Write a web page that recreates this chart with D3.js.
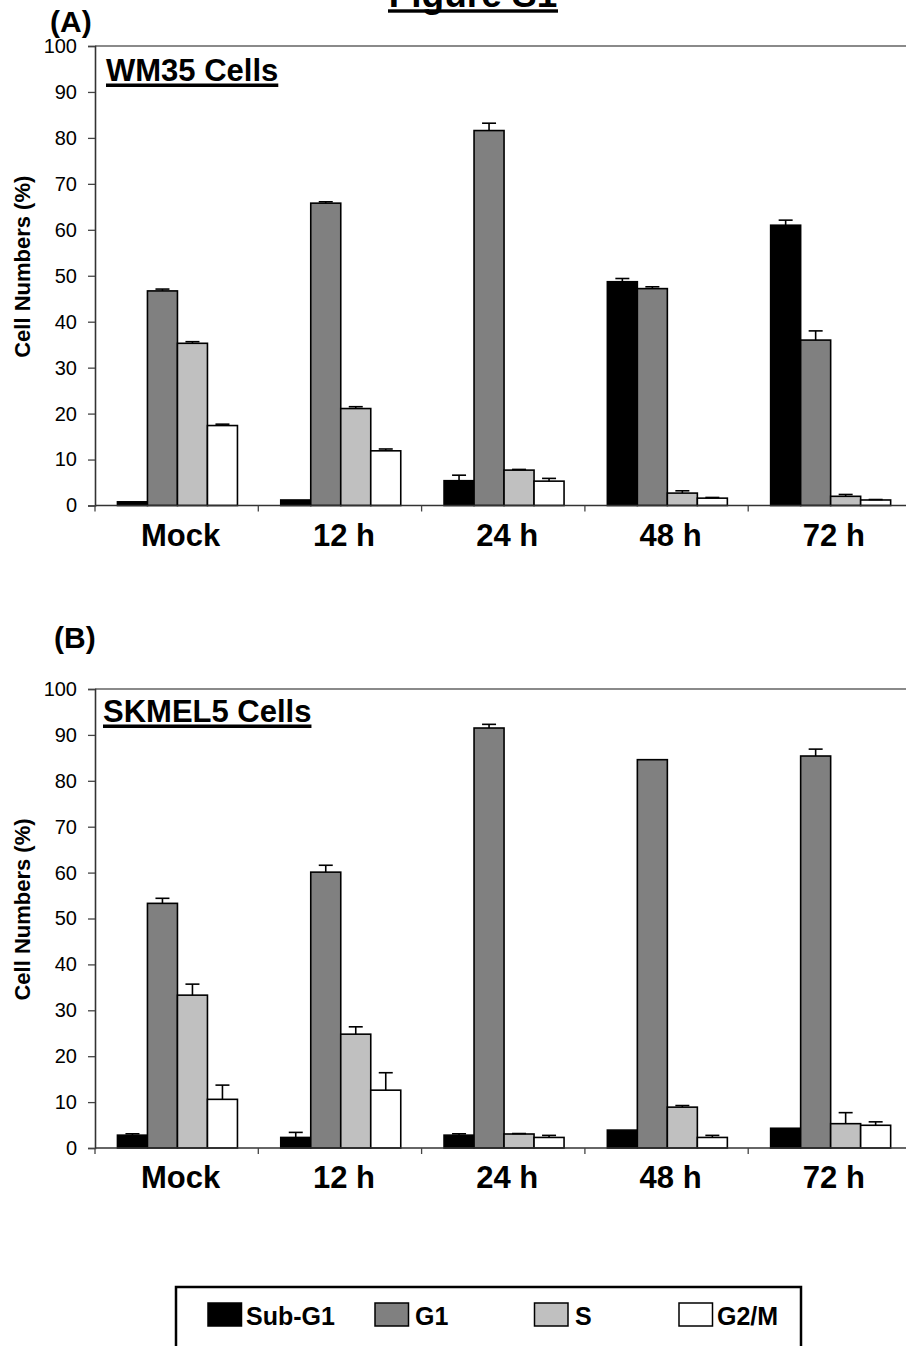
<!DOCTYPE html>
<html>
<head>
<meta charset="utf-8">
<script src="https://cdn.jsdelivr.net/npm/d3@7/dist/d3.min.js"></script>
<style>
  html, body { margin: 0; padding: 0; background: #fff; }
  svg { display: block; }
  text { font-family: "Liberation Sans", Arial, Helvetica, sans-serif; fill: #000; }
</style>
</head>
<body>
<svg id="fig" width="906" height="1346"></svg>
<script>
// Time points and cell-cycle phases
const categories = ["Mock", "12 h", "24 h", "48 h", "72 h"];
const phases = ["Sub-G1", "G1", "S", "G2/M"];
const phaseColors = ["#000000", "#808080", "#c0c0c0", "#ffffff"];
const yTicks = [0, 10, 20, 30, 40, 50, 60, 70, 80, 90, 100];

// WM35 cells: mean percentage per phase, and upper error
const wm35SubG1 = [0.8, 1.2, 5.4, 48.7, 61.0];
const wm35G1    = [46.7, 65.8, 81.6, 47.2, 36.0];
const wm35S     = [35.3, 21.1, 7.7, 2.7, 2.0];
const wm35G2M   = [17.4, 11.9, 5.3, 1.6, 1.2];
const wm35SubG1Err = [0, 0, 1.2, 0.7, 1.1];
const wm35G1Err    = [0.4, 0.3, 1.6, 0.4, 2.0];
const wm35SErr     = [0.35, 0.4, 0.15, 0.5, 0.4];
const wm35G2MErr   = [0.3, 0.4, 0.6, 0.15, 0.1];

// SKMEL5 cells
const skmelSubG1 = [2.8, 2.3, 2.8, 3.9, 4.3];
const skmelG1    = [53.3, 60.1, 91.5, 84.6, 85.4];
const skmelS     = [33.3, 24.8, 3.05, 8.9, 5.3];
const skmelG2M   = [10.6, 12.6, 2.3, 2.3, 4.95];
const skmelSubG1Err = [0.3, 1.1, 0.3, 0, 0];
const skmelG1Err    = [1.1, 1.5, 0.8, 0, 1.5];
const skmelSErr     = [2.4, 1.6, 0.1, 0.35, 2.4];
const skmelG2MErr   = [3.1, 3.8, 0.45, 0.45, 0.75];

const FONT = '"Liberation Sans", Arial, Helvetica, sans-serif';
const svg = d3.select("#fig");

// Figure title (partly above the page edge)
const title = svg.append("text")
  .attr("x", 473).attr("y", 7)
  .attr("text-anchor", "middle")
  .style("font-size", "37px").style("font-weight", "bold")
  .text("Figure S1");
svg.append("rect").attr("x", 388).attr("y", 9.3).attr("width", 170).attr("height", 3.4).attr("fill", "#000");

function buildTable(vals, errs) {
  return categories.map((c, i) => ({
    category: c,
    bars: phases.map((p, j) => ({ phase: p, value: vals[j][i], err: errs[j][i], color: phaseColors[j] }))
  }));
}

function drawPanel(opts) {
  const { table, top, bottom, label, labelX, labelY, cellName, cellX, cellY } = opts;
  const g = svg.append("g");

  const x = d3.scaleBand().domain(categories).range([95, 95 + 5 * 163.3]).paddingInner(0).paddingOuter(0);
  const groupW = 120;
  const xi = d3.scaleBand().domain(phases).range([0, groupW]).padding(0);
  const groupOffset = (x.bandwidth() - groupW) / 2 + 0.8;
  const y = d3.scaleLinear().domain([0, 100]).range([bottom, top]);

  // plot frame top edge
  g.append("line").attr("x1", 95).attr("x2", 906).attr("y1", y(100)).attr("y2", y(100))
    .attr("stroke", "#8a8a8a").attr("stroke-width", 2);

  // bars
  const groups = g.selectAll("g.grp").data(table).join("g")
    .attr("class", "grp")
    .attr("transform", d => `translate(${x(d.category) + groupOffset},0)`);

  groups.selectAll("rect").data(d => d.bars).join("rect")
    .attr("x", d => xi(d.phase))
    .attr("y", d => y(d.value))
    .attr("width", xi.bandwidth())
    .attr("height", d => y(0) - y(d.value))
    .attr("fill", d => d.color)
    .attr("stroke", "#000").attr("stroke-width", 1.6);

  // upper error bars
  const eb = groups.selectAll("g.err").data(d => d.bars.filter(b => b.err > 0)).join("g").attr("class", "err");
  eb.append("line")
    .attr("x1", d => xi(d.phase) + xi.bandwidth() / 2)
    .attr("x2", d => xi(d.phase) + xi.bandwidth() / 2)
    .attr("y1", d => y(d.value)).attr("y2", d => y(d.value + d.err))
    .attr("stroke", "#000").attr("stroke-width", 1.6);
  eb.append("line")
    .attr("x1", d => xi(d.phase) + xi.bandwidth() / 2 - 7)
    .attr("x2", d => xi(d.phase) + xi.bandwidth() / 2 + 7)
    .attr("y1", d => y(d.value + d.err)).attr("y2", d => y(d.value + d.err))
    .attr("stroke", "#000").attr("stroke-width", 1.6);

  // y axis
  const yAxis = g.append("g").attr("transform", "translate(95,0)")
    .call(d3.axisLeft(y).tickValues(yTicks).tickSize(7).tickPadding(11).tickFormat(d3.format("d")));
  yAxis.select(".domain").attr("stroke", "#333").attr("stroke-width", 1.6);
  yAxis.selectAll(".tick line").attr("stroke", "#444").attr("stroke-width", 1.3);
  yAxis.selectAll(".tick text").style("font-family", FONT).style("font-size", "20px").attr("fill", "#000");

  // x axis: baseline with boundary ticks between time points
  g.append("line").attr("x1", 95).attr("x2", 906).attr("y1", y(0)).attr("y2", y(0))
    .attr("stroke", "#333").attr("stroke-width", 1.6);
  const bounds = categories.map(c => x(c)).concat([x(categories[categories.length - 1]) + x.bandwidth()]);
  g.selectAll("line.xt").data(bounds).join("line").attr("class", "xt")
    .attr("x1", d => d).attr("x2", d => d)
    .attr("y1", y(0)).attr("y2", y(0) + 6)
    .attr("stroke", "#444").attr("stroke-width", 1.3);
  g.selectAll("text.xl").data(categories).join("text").attr("class", "xl")
    .attr("x", d => x(d) + x.bandwidth() / 2 + 4)
    .attr("y", y(0) + 40)
    .attr("text-anchor", "middle")
    .style("font-size", "31px").style("font-weight", "bold")
    .text(d => d);

  // y axis title
  g.append("text")
    .attr("transform", `translate(30,${(y(0) + y(100)) / 2 - 9}) rotate(-90)`)
    .attr("text-anchor", "middle")
    .style("font-size", "22px").style("font-weight", "bold")
    .text("Cell Numbers (%)");

  // panel letter
  g.append("text").attr("x", labelX).attr("y", labelY)
    .style("font-size", "30px").style("font-weight", "bold").text(label);

  // cell line name, underlined
  const nm = g.append("text").attr("x", cellX).attr("y", cellY)
    .style("font-size", "31px").style("font-weight", "bold").text(cellName);
  const w = nm.node().getComputedTextLength();
  g.append("rect").attr("x", cellX).attr("y", cellY + 2.5).attr("width", w).attr("height", 3.5).attr("fill", "#000");
}

drawPanel({
  table: buildTable([wm35SubG1, wm35G1, wm35S, wm35G2M], [wm35SubG1Err, wm35G1Err, wm35SErr, wm35G2MErr]),
  top: 46, bottom: 505.5, label: "(A)", labelX: 50, labelY: 32,
  cellName: "WM35 Cells", cellX: 106, cellY: 81
});

drawPanel({
  table: buildTable([skmelSubG1, skmelG1, skmelS, skmelG2M], [skmelSubG1Err, skmelG1Err, skmelSErr, skmelG2MErr]),
  top: 689, bottom: 1148, label: "(B)", labelX: 54, labelY: 648,
  cellName: "SKMEL5 Cells", cellX: 103, cellY: 722
});

// legend
const legend = svg.append("g");
legend.append("rect").attr("x", 176).attr("y", 1287).attr("width", 625).attr("height", 90)
  .attr("fill", "none").attr("stroke", "#000").attr("stroke-width", 2.5);
const swatchX = [208, 375, 534.5, 679];
const textX = [246, 415, 575, 717];
const items = legend.selectAll("g.item").data(phases).join("g").attr("class", "item");
items.append("rect")
  .attr("x", (d, i) => swatchX[i]).attr("y", 1303)
  .attr("width", 33.5).attr("height", 23)
  .attr("fill", (d, i) => phaseColors[i])
  .attr("stroke", "#000").attr("stroke-width", 1.5);
items.append("text")
  .attr("x", (d, i) => textX[i]).attr("y", 1325)
  .style("font-size", "25px").style("font-weight", "bold")
  .text(d => d);
</script>
</body>
</html>
